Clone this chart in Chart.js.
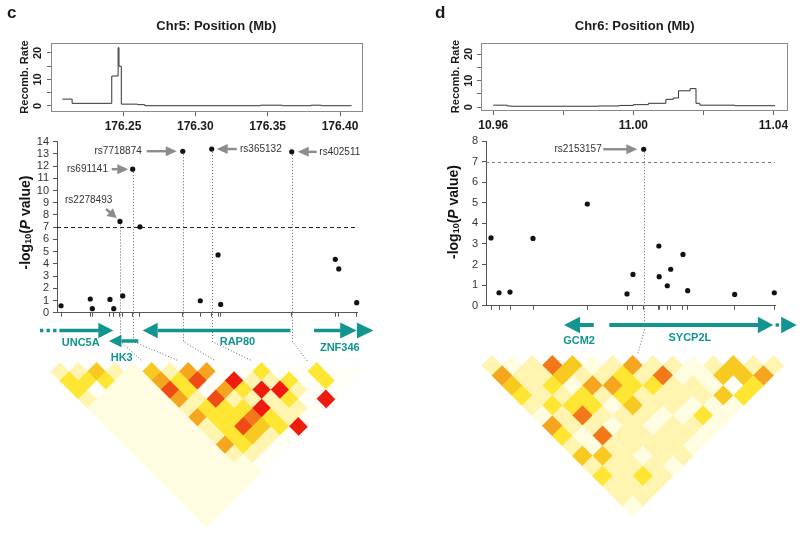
<!DOCTYPE html>
<html>
<head>
<meta charset="utf-8">
<script src="https://cdn.jsdelivr.net/npm/chart.js"></script>
<style>
  html, body { margin: 0; padding: 0; background: #fff; }
  #fig { position: relative; width: 800px; height: 538px; overflow: hidden; }
  #fig canvas { position: absolute; }
</style>
</head>
<body>
<div id="fig">
  <canvas id="recC" width="400" height="135" style="left:0;top:0"></canvas>
  <canvas id="ldC" width="400" height="180" style="left:0;top:355px"></canvas>
  <canvas id="scC" width="400" height="240" style="left:0;top:130px"></canvas>
  <canvas id="recD" width="400" height="135" style="left:400px;top:0"></canvas>
  <canvas id="ldD" width="400" height="180" style="left:400px;top:350px"></canvas>
  <canvas id="scD" width="400" height="240" style="left:400px;top:130px"></canvas>
</div>
<script>
/**
 * Regional association plots: recombination rate, -log10 P, genes, LD blocks
 */
const FONT = '"Liberation Sans", Arial, Helvetica, sans-serif';
Chart.defaults.font.family = FONT;
const TEAL = '#13958f';
const LD_COLORS = { '-1': '#fffff7', 0: '#fffde1', 1: '#fff4b0', 2: '#ffe633', 3: '#f8c920', 4: '#f6a51f', 5: '#f2781a', 6: '#ee4b16', 7: '#ef1b0f' };

// ===== panel c : Chr5 =====
const cSnpMb = [176.2072, 176.2274, 176.2288, 176.2410, 176.2436, 176.2479, 176.2498, 176.2567, 176.2617,
  176.2913, 176.3034, 176.3113, 176.3157, 176.3175, 176.3666, 176.3967, 176.3991, 176.4115];
const cLogP = [0.57, 1.12, 0.33, 1.09, 0.33, 7.47, 1.37, 11.75, 7.03, 13.22, 0.98, 13.4, 4.73, 0.68, 13.17, 4.37, 3.58, 0.82];
const cRecMb = [176.2080, 176.2148, 176.2422, 176.2466, 176.2472, 176.2488, 176.2600, 176.2650, 176.3450, 176.3600, 176.3800, 176.3870, 176.4080];
const cRecRate = [2.6, 1.0, 11.3, 22.0, 15.0, 0.7, 0.5, 0.1, 0.3, 0.1, 0.3, 0.1, 0.1];
const cRecTicks = [176.25, 176.30, 176.35, 176.40];
const cRecTickLabels = ['176.25', '176.30', '176.35', '176.40'];
const cHitSnp = [5, 7, 9, 11, 14];
const cHitName = ['rs2278493', 'rs691141', 'rs7718874', 'rs365132', 'rs402511'];
const cHitLd = [5, 7, 9, 11, 14];
const cGeneName = ['UNC5A', 'HK3', 'RAP80', 'ZNF346'];
const cGeneFrom = [176.2060, 176.2602, 176.3654, 176.3820];
const cGeneTips = [[176.2433], [176.2403], [176.2636], [176.4115, 176.4230]];
const cGeneDashFrom = [176.1926, null, null, null];
const cGeneLabelMb = [176.2208, 176.2491, 176.3291, 176.3998];
// r2 level per LD diagonal (distance 1..17), markers i = 0..
const cLd = [
  [1, 1, 3, 1, 0, 3, 1, 4, 4, -1, -1, 2, -1, -1, 2, -1, -1],
  [2, 2, 2, 0, 0, 4, 2, 6, -1, 7, 1, 1, 2, -1, 2, -1],
  [2, -1, 0, 0, 0, 6, 2, -1, 4, 2, 7, 7, 1, -1, -1],
  [1, 0, 0, 0, 0, 4, 1, 6, 1, 1, 1, 2, -1, 7],
  [0, 0, 0, 0, 0, 1, 2, 2, 2, 7, 1, 1, -1],
  [0, 0, 0, 0, 0, 4, 2, 2, 5, 2, 1, -1],
  [0, 0, 0, 0, 0, 1, 2, 6, 3, 2, 7],
  [0, 0, 0, 0, 0, 1, 2, 3, 1, -1],
  [0, 0, 0, 0, 0, 4, 2, 1, -1],
  [0, 0, 0, 0, 0, 1, 1, -1],
  [0, 0, 0, 0, 0, 0, -1],
  [0, 0, 0, 0, 0, 0],
  [0, 0, 0, 0, 0],
  [0, 0, 0, 0],
  [0, 0, 0],
  [0, 0],
  [0]
];

// ===== panel d : Chr6 =====
const dSnpMb = [10.95934, 10.96163, 10.96477, 10.97134, 10.98686, 10.99820, 10.99991, 11.00297,
  11.00730, 11.00740, 11.00971, 11.01069, 11.01420, 11.01554, 11.02897, 11.04029];
const dLogP = [3.29, 0.63, 0.66, 3.27, 4.94, 0.57, 1.52, 7.6, 2.9, 1.41, 0.97, 1.77, 2.49, 0.73, 0.55, 0.63];
const dRecMb = [10.9600, 10.9640, 10.9650, 10.9900, 10.9960, 11.0000, 11.0043, 11.0093, 11.0114, 11.0129, 11.0162, 11.0179, 11.0190, 11.0290, 11.0405];
const dRecRate = [0.8, 0.5, 0.4, 0.5, 0.7, 1.0, 1.5, 3.0, 3.5, 6.2, 7.0, 1.5, 0.8, 0.6, 0.6];
const dRecTicks = [10.96, 10.98, 11.00, 11.02, 11.04];
const dRecTickLabels = ['10.96', '', '11.00', '', '11.04'];
const dHitSnp = [7];
const dHitName = ['rs2153157'];
const dHitLd = [7.75];
const dGeneName = ['GCM2', 'SYCP2L'];
const dGeneFrom = [10.98857, 10.99314];
const dGeneTips = [[10.98020], [11.04000, 11.04669]];
const dGeneDots = [[], [11.04114]];
const dGeneLabelMb = [10.98449, 11.01617];
const dLd = [
  [1, 0, 1, 5, 3, 0, 1, 4, 1, 1, 0, 1, 3, 1, 1],
  [4, 1, 1, 3, 1, 1, 2, 1, 5, 0, 0, 3, 3, 4],
  [3, 1, 2, 0, 4, 4, 2, 2, 1, 1, 0, -1, 2],
  [2, 1, 1, 2, 1, 2, 1, 1, 1, 1, 3, 2],
  [1, 2, 2, 2, 0, 3, 1, 1, 0, 0, 0],
  [0, 1, 5, 1, 1, 1, 0, 0, 2, 0],
  [4, 1, 1, 0, 1, 0, 1, 1, 0],
  [2, 0, 5, 1, 1, 1, 1, 0],
  [1, 0, 1, 1, 1, 1, 0],
  [3, 3, 1, 0, 1, 1],
  [1, 1, 1, 1, 0],
  [2, 1, 2, 1],
  [1, 1, 1],
  [1, 1],
  [0]
];

// ---------- helpers ----------
function arrow(ctx, x1, y1, x2, y2, w, hl, hw, color) {
  const a = Math.atan2(y2 - y1, x2 - x1), L = Math.hypot(x2 - x1, y2 - y1);
  ctx.save();
  ctx.translate(x2, y2); ctx.rotate(a);
  ctx.fillStyle = color;
  ctx.fillRect(-L, -w / 2, L - hl + 0.5, w);
  ctx.beginPath(); ctx.moveTo(0, 0); ctx.lineTo(-hl, -hw); ctx.lineTo(-hl, hw); ctx.closePath(); ctx.fill();
  ctx.restore();
}

function yTitle(ctx, cx, cy) {
  const parts = [['-log', 'bold 14px', 0], ['10', 'bold 9px', 3], ['(', 'bold 14px', 0], ['P', 'italic bold 14px', 0], [' value)', 'bold 14px', 0]];
  let total = 0;
  parts.forEach(p => { ctx.font = p[1] + ' ' + FONT; p.push(ctx.measureText(p[0]).width); total += p[3]; });
  ctx.save();
  ctx.translate(cx, cy); ctx.rotate(-Math.PI / 2);
  ctx.fillStyle = '#111'; ctx.textBaseline = 'middle'; ctx.textAlign = 'left';
  let xx = -total / 2;
  parts.forEach(p => { ctx.font = p[1] + ' ' + FONT; ctx.fillText(p[0], xx, p[2]); xx += p[3]; });
  ctx.restore();
}

// ---------- recombination rate ----------
function recombChart(id, mb, rate, ticks, tickLabels, xr, yr, lay) {
  return new Chart(document.getElementById(id), {
    type: 'line',
    data: { datasets: [{ data: mb.map((x, i) => ({ x, y: rate[i] })), borderColor: '#333', borderWidth: 1, pointRadius: 0, stepped: 'before', fill: false }] },
    options: {
      responsive: false, animation: false, events: [],
      layout: { padding: { left: 0, right: lay.padR, top: lay.padT, bottom: 0 }, autoPadding: false },
      plugins: { legend: { display: false }, tooltip: { enabled: false } },
      scales: {
        x: {
          type: 'linear', min: xr[0], max: xr[1],
          afterBuildTicks: s => { s.ticks = ticks.map(v => ({ value: v })); },
          afterFit: s => { s.height = lay.xH; },
          ticks: { callback: (v, i) => tickLabels[i], autoSkip: false, maxRotation: 0, padding: 3, color: '#1a1a1a', font: { size: 12, weight: 'bold' } },
          grid: { drawOnChartArea: false, tickLength: 5, color: '#666' }, border: { display: false }
        },
        y: {
          type: 'linear', min: yr[0], max: yr[1],
          afterBuildTicks: s => { s.ticks = [0, 5, 10, 15, 20].map(v => ({ value: v })); },
          afterFit: s => { s.width = lay.yW; },
          ticks: { display: false },
          grid: { drawOnChartArea: false, tickLength: 4, color: '#666' }, border: { display: false }
        }
      }
    },
    plugins: [{
      id: 'frame',
      afterDraw(chart) {
        const { ctx, chartArea: a, scales: { y } } = chart;
        ctx.save();
        ctx.strokeStyle = '#8a8a8a'; ctx.lineWidth = 1;
        ctx.strokeRect(Math.round(a.left) + 0.5, Math.round(a.top) + 0.5, Math.round(a.right - a.left), Math.round(a.bottom - a.top));
        ctx.fillStyle = '#1a1a1a'; ctx.textAlign = 'center'; ctx.textBaseline = 'middle';
        ctx.font = 'bold 11px ' + FONT;
        [0, 10, 20].forEach(v => {
          ctx.save(); ctx.translate(lay.yLabX, y.getPixelForValue(v)); ctx.rotate(-Math.PI / 2);
          ctx.fillText(String(v), 0, 0); ctx.restore();
        });
        ctx.save(); ctx.translate(lay.yTitleX, (a.top + a.bottom) / 2); ctx.rotate(-Math.PI / 2);
        ctx.fillText('Recomb. Rate', 0, 0); ctx.restore();
        ctx.font = 'bold 13px ' + FONT;
        ctx.fillText(lay.title, lay.titleX, 26);
        ctx.font = 'bold 17px ' + FONT; ctx.textAlign = 'left'; ctx.textBaseline = 'alphabetic';
        ctx.fillText(lay.letter, lay.letterX, 18);
        ctx.restore();
      }
    }]
  });
}

// ---------- LD heatmap ----------
function ldChart(id, rows, n, W, pad) {
  const pts = [];
  rows.forEach((row, r) => { const d = r + 1; row.forEach((v, i) => pts.push({ x: i + d / 2, y: d / 2, v })); });
  return new Chart(document.getElementById(id), {
    type: 'scatter',
    data: { datasets: [{ data: pts, pointStyle: 'rectRot', pointRadius: W / 2 + 0.4, borderWidth: 0,
      backgroundColor: c => (c.raw ? LD_COLORS[c.raw.v] : '#fff'), clip: false }] },
    options: {
      responsive: false, animation: false, events: [],
      layout: { padding: pad, autoPadding: false },
      plugins: { legend: { display: false }, tooltip: { enabled: false } },
      scales: {
        x: { type: 'linear', display: false, min: 0, max: n - 1 },
        y: { type: 'linear', display: false, min: 0, max: n / 2, reverse: true }
      }
    }
  });
}

// ---------- association scatter + gene track + connectors ----------
function scatterChart(id, p) {
  const decor = {
    id: 'decor',
    beforeDatasetsDraw(chart) {
      const { ctx, chartArea: a, scales: { x, y } } = chart;
      ctx.save();
      ctx.strokeStyle = p.threshColor; ctx.lineWidth = 1; ctx.setLineDash(p.threshDash);
      const ty = Math.round(y.getPixelForValue(7)) + 0.5;
      ctx.beginPath(); ctx.moveTo(a.left, ty); ctx.lineTo(a.right, ty); ctx.stroke();
      ctx.strokeStyle = '#666'; ctx.setLineDash([1, 2]);
      p.hitSnp.forEach((s, k) => {
        const px = Math.round(x.getPixelForValue(p.snpMb[s])) + 0.5;
        const py = y.getPixelForValue(p.logP[s]);
        const ex = p.ld.scales.x.getPixelForValue(p.hitLd[k]);
        const ey = p.ld.chartArea.top + p.ldDy - 1.5;
        ctx.beginPath(); ctx.moveTo(px, py); ctx.lineTo(px, p.bendY); ctx.lineTo(ex, ey); ctx.stroke();
      });
      ctx.restore();
    },
    afterDatasetsDraw(chart) {
      const { ctx, scales: { x, y } } = chart;
      ctx.save();
      // SNP call-outs
      ctx.font = '10px ' + FONT; ctx.textBaseline = 'middle';
      p.hitSnp.forEach((s, k) => {
        const px = x.getPixelForValue(p.snpMb[s]), py = y.getPixelForValue(p.logP[s]);
        const an = p.anno[k];
        ctx.fillStyle = '#333';
        if (an.type === 'left') {
          const tip = px - an.gap, tail = tip - an.len;
          arrow(ctx, tail, py, tip, py, 2.4, 11, 5, '#8c8c8c');
          ctx.fillStyle = '#333'; ctx.textAlign = 'right'; ctx.fillText(p.hitName[k], tail - an.tgap, py);
        } else if (an.type === 'right') {
          const tip = px + an.gap, tail = tip + an.len;
          arrow(ctx, tail, py, tip, py, 2.4, 11, 5, '#8c8c8c');
          ctx.fillStyle = '#333'; ctx.textAlign = 'left'; ctx.fillText(p.hitName[k], tail + an.tgap, py);
        } else {
          arrow(ctx, px + an.tail[0], py + an.tail[1], px + an.tip[0], py + an.tip[1], 2.4, 9, 5, '#8c8c8c');
          ctx.fillStyle = '#333'; ctx.textAlign = 'center'; ctx.fillText(p.hitName[k], px + an.text[0], py + an.text[1]);
        }
      });
      // genes
      ctx.fillStyle = TEAL;
      p.geneName.forEach((g, k) => {
        const gy = p.geneY[k], [hl, hh] = p.geneHead[k], sw = p.shaftW;
        const x0 = x.getPixelForValue(p.geneFrom[k]);
        const tips = p.geneTips[k].map(v => x.getPixelForValue(v));
        const dir = Math.sign(tips[0] - x0);
        const sEnd = tips[0] - dir * hl;
        ctx.fillRect(Math.min(x0, sEnd), gy - sw / 2, Math.abs(sEnd - x0) + 0.5, sw);
        tips.forEach(tx => {
          ctx.beginPath(); ctx.moveTo(tx, gy); ctx.lineTo(tx - dir * hl, gy - hh); ctx.lineTo(tx - dir * hl, gy + hh); ctx.closePath(); ctx.fill();
        });
        if (p.geneDash && p.geneDash[k] != null) {
          ctx.save(); ctx.strokeStyle = TEAL; ctx.lineWidth = sw; ctx.setLineDash([3.4, 3.2]);
          ctx.beginPath(); ctx.moveTo(x.getPixelForValue(p.geneDash[k]), gy); ctx.lineTo(x0 - 2.5, gy); ctx.stroke(); ctx.restore();
        }
        if (p.geneDots) p.geneDots[k].forEach(v => { const dx = x.getPixelForValue(v); ctx.fillRect(dx - 1.7, gy - 1.7, 3.4, 3.4); });
        ctx.font = 'bold 11px ' + FONT; ctx.textAlign = 'center'; ctx.textBaseline = 'middle';
        ctx.fillText(g, x.getPixelForValue(p.geneLabelMb[k]), p.geneLabelY[k]);
      });
      ctx.restore();
      yTitle(ctx, p.titleX, p.titleY);
    }
  };
  return new Chart(document.getElementById(id), {
    type: 'scatter',
    data: { datasets: [{ data: p.snpMb.map((v, i) => ({ x: v, y: p.logP[i] })), pointRadius: 2.6, backgroundColor: '#111', borderWidth: 0, clip: false }] },
    options: {
      responsive: false, animation: false, events: [],
      layout: { padding: { left: 0, right: p.padR, top: p.padT, bottom: 0 }, autoPadding: false },
      plugins: { legend: { display: false }, tooltip: { enabled: false } },
      scales: {
        x: {
          type: 'linear', min: p.xr[0], max: p.xr[1],
          afterBuildTicks: s => { s.ticks = p.snpMb.map(v => ({ value: v })); },
          afterFit: s => { s.height = p.xH; },
          ticks: { display: false },
          grid: { drawOnChartArea: false, tickLength: 4, color: '#555' }, border: { color: '#555' }
        },
        y: {
          min: 0, max: p.ymax,
          afterBuildTicks: s => { s.ticks = Array.from({ length: p.ymax + 1 }, (_, v) => ({ value: v })); },
          afterFit: s => { s.width = p.yW; },
          ticks: { autoSkip: false, padding: 4, color: '#333', font: { size: 11 } },
          grid: { drawOnChartArea: false, tickLength: 4, color: '#555' }, border: { color: '#555' }
        }
      }
    },
    plugins: [decor]
  });
}

// ===== build panel c =====
recombChart('recC', cRecMb, cRecRate, cRecTicks, cRecTickLabels, [176.2002, 176.4152], [-1.89, 23.77],
  { yW: 51, padR: 38, padT: 43, xH: 24, yLabX: 38.3, yTitleX: 25, title: 'Chr5: Position (Mb)', titleX: 216.3, letter: 'c', letterX: 7 });
const ldC = ldChart('ldC', cLd, 18, 18.33, { left: 50.8, right: 37.6, top: 7.5, bottom: 7.5 });
scatterChart('scC', {
  snpMb: cSnpMb, logP: cLogP, xr: [176.2044, 176.4117], ymax: 14,
  yW: 57, padR: 43, padT: 11.7, xH: 57.3,
  threshColor: '#222', threshDash: [4, 3],
  hitSnp: cHitSnp, hitName: cHitName, hitLd: cHitLd, ld: ldC, ldDy: 225, bendY: 211.7,
  anno: [
    { type: 'diag', tail: [-14, -12.5], tip: [-3.3, -3.5], text: [-31.3, -20.8] },
    { type: 'left', gap: 4.4, len: 16.6, tgap: 3.7 },
    { type: 'left', gap: 6, len: 30, tgap: 5 },
    { type: 'right', gap: 5, len: 20, tgap: 3.3 },
    { type: 'right', gap: 6, len: 19, tgap: 2.6 }
  ],
  geneName: cGeneName, geneFrom: cGeneFrom, geneTips: cGeneTips, geneDash: cGeneDashFrom, geneLabelMb: cGeneLabelMb,
  geneY: [200.5, 211, 200.5, 200.5], geneLabelY: [213.3, 228.3, 211.7, 217.7],
  geneHead: [[15, 7.8], [12.5, 6.2], [15, 7.8], [16.5, 8]], shaftW: 3.5,
  titleX: 26, titleY: 92.5
});

// ===== build panel d =====
recombChart('recD', dRecMb, dRecRate, dRecTicks, dRecTickLabels, [10.9565, 11.0438], [-1.01, 24.13],
  { yW: 81, padR: 13.3, padT: 43, xH: 25, yLabX: 69.3, yTitleX: 56, title: 'Chr6: Position (Mb)', titleX: 234.7, letter: 'd', letterX: 35 });
const ldD = ldChart('ldD', dLd, 16, 20.1, { left: 82, right: 16.5, top: 5.5, bottom: 13.7 });
scatterChart('scD', {
  snpMb: dSnpMb, logP: dLogP, xr: [10.95791, 11.04049], ymax: 8,
  yW: 86, padR: 25, padT: 11, xH: 64.3,
  threshColor: '#777', threshDash: [3, 3],
  hitSnp: dHitSnp, hitName: dHitName, hitLd: dHitLd, ld: ldD, ldDy: 220, bendY: 200,
  anno: [{ type: 'left', gap: 6.4, len: 34, tgap: 1.6 }],
  geneName: dGeneName, geneFrom: dGeneFrom, geneTips: dGeneTips, geneDots: dGeneDots, geneLabelMb: dGeneLabelMb,
  geneY: [195, 195], geneLabelY: [210.7, 207.7],
  geneHead: [[16, 8.3], [15.5, 8.3]], shaftW: 4,
  titleX: 54, titleY: 82
});
</script>
</body>
</html>
